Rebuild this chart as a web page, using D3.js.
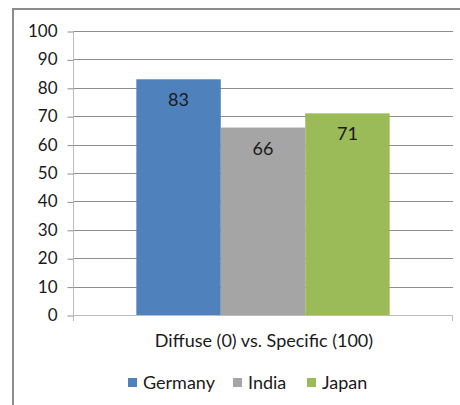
<!DOCTYPE html>
<html>
<head>
<meta charset="utf-8">
<script src="https://cdn.jsdelivr.net/npm/d3@7"></script>
<style>
  body { margin: 0; background: #fff; }
  svg { display: block; font-family: Lato, "Open Sans", sans-serif; }
</style>
</head>
<body>
<div id="chart-container"></div>
<script>
// clustered column - one category, three countries

const category = "Diffuse (0) vs. Specific (100)";
const countries = ["Germany", "India", "Japan"];
const scores = [83, 66, 71];
const colors = ["#4f81bd", "#a5a5a5", "#9bbb59"];
const yTicks = [0, 10, 20, 30, 40, 50, 60, 70, 80, 90, 100];

const svgWidth = 460;
const svgHeight = 405;
const margin = { top: 31, right: 7, bottom: 90, left: 73 };
const width = svgWidth - margin.left - margin.right;
const height = svgHeight - margin.top - margin.bottom;

const svg = d3.select("#chart-container")
    .append("svg")
    .attr("width", svgWidth)
    .attr("height", svgHeight);

// outer frame (only top and left edges show in the crop)
svg.append("path")
    .attr("d", `M13,${svgHeight} L13,9 L${svgWidth},9`)
    .attr("fill", "none")
    .attr("stroke", "#8c8c8c")
    .attr("stroke-width", 2);

const chart = svg.append("g")
    .attr("transform", `translate(${margin.left},${margin.top})`);

const scaleY = d3.scaleLinear().domain([0, 100]).range([height, 0]);

// outer band for the single category, inner band for the countries (gap 150%)
const scaleX = d3.scaleBand().domain([category]).range([0, width]);
const inner = d3.scaleBand().domain(countries)
    .range([0, scaleX.bandwidth()])
    .paddingOuter(0.75).paddingInner(0);

// gridlines
chart.append("g")
    .selectAll("line")
    .data(yTicks.filter(d => d > 0))
    .enter()
    .append("line")
    .attr("x1", 0)
    .attr("x2", width)
    .attr("y1", d => Math.round(scaleY(d)) + 0.5)
    .attr("y2", d => Math.round(scaleY(d)) + 0.5)
    .attr("stroke", "#8e8e8e")
    .attr("stroke-width", 1);

// y axis
const yAxis = chart.append("g")
    .attr("transform", "translate(0.5,0)")
    .call(d3.axisLeft(scaleY).tickValues(yTicks).tickSize(6).tickPadding(10).tickSizeOuter(0));
yAxis.select(".domain").attr("stroke", "#bdbdbd").attr("d", `M0,0 V${height + 6}`);
yAxis.selectAll(".tick line").attr("stroke", "#8e8e8e")
    .attr("transform", "translate(0,0.5)");
yAxis.selectAll(".tick text")
    .attr("font-size", "17px")
    .attr("fill", "#1a1a1a")
    .attr("font-family", "Lato, sans-serif");

// bars
chart.selectAll("rect.bar")
    .data(scores)
    .enter()
    .append("rect")
    .attr("class", "bar")
    .attr("x", (d, i) => scaleX(category) + inner(countries[i]))
    .attr("y", d => scaleY(d))
    .attr("width", inner.bandwidth())
    .attr("height", d => height - scaleY(d))
    .attr("fill", (d, i) => colors[i]);

// value labels inside end
chart.selectAll("text.value")
    .data(scores)
    .enter()
    .append("text")
    .attr("class", "value")
    .attr("x", (d, i) => scaleX(category) + inner(countries[i]) + inner.bandwidth() / 2)
    .attr("y", d => scaleY(d) + 27)
    .attr("text-anchor", "middle")
    .attr("font-size", "18px")
    .attr("fill", "#1a1a1a")
    .text(d => d);

// x axis line
chart.append("path")
    .attr("d", `M0,${height + 0.5} H${width - 0.5} V${height + 6}`)
    .attr("fill", "none")
    .attr("stroke", "#bdbdbd")
    .attr("stroke-width", 1);

chart.append("text")
    .attr("x", width / 2 + 1)
    .attr("y", height + 32)
    .attr("text-anchor", "middle")
    .attr("font-size", "18px")
    .attr("fill", "#1a1a1a")
    .text(category);

// legend
const legendX = [128, 233, 307];
const legendG = svg.append("g").attr("transform", "translate(0, 378)");
countries.forEach(function(c, i) {
    const row = legendG.append("g").attr("transform", `translate(${legendX[i]}, 0)`);
    row.append("rect").attr("width", 9).attr("height", 9).attr("fill", colors[i]);
    row.append("text").attr("x", 15).attr("y", 11)
        .attr("font-size", "18px").attr("fill", "#1a1a1a").text(c);
});
</script>
</body>
</html>
